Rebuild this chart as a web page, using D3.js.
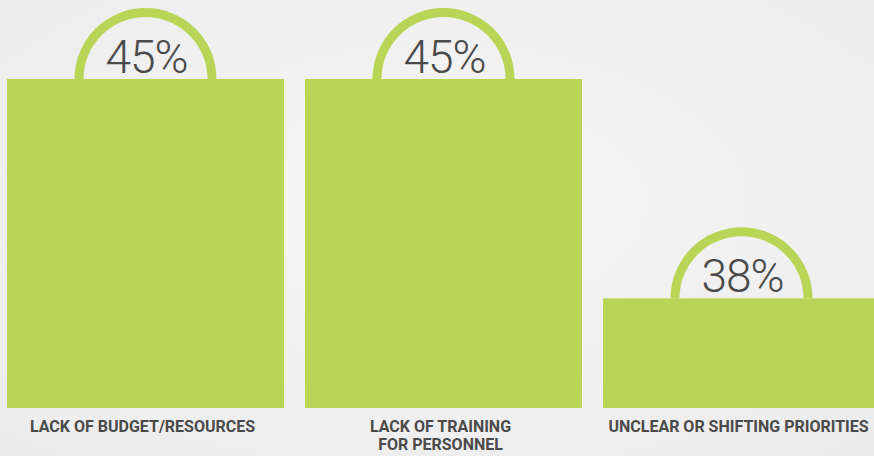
<!DOCTYPE html>
<html>
<head>
<meta charset="utf-8">
<script src="https://cdn.jsdelivr.net/npm/d3@7"></script>
<style>
  html, body { margin: 0; padding: 0; overflow: hidden; }
  body { width: 874px; height: 456px; }
</style>
</head>
<body>
<div id="chart"></div>
<script>
var categories = ["LACK OF BUDGET/RESOURCES", "LACK OF TRAINING|FOR PERSONNEL", "UNCLEAR OR SHIFTING PRIORITIES"];
var values = [45, 45, 38];
var valueLabels = ["45%", "45%", "38%"];

var width = 874,
    height = 456,
    green = "#b9d556",
    textColor = "#4a4a4a";

var svg = d3.select("#chart").append("svg")
    .attr("width", width)
    .attr("height", height);

var defs = svg.append("defs");
var grad = defs.append("radialGradient")
    .attr("id", "bg")
    .attr("cx", "50%").attr("cy", "45%").attr("r", "70%");
grad.append("stop").attr("offset", "0%").attr("stop-color", "#f6f6f6");
grad.append("stop").attr("offset", "100%").attr("stop-color", "#ececec");

svg.append("rect")
    .attr("width", width)
    .attr("height", height)
    .attr("fill", "url(#bg)");

// bands: 277px bars on a 298px step, starting at x=7
var x = d3.scaleBand()
    .domain(d3.range(categories.length))
    .range([7 - 10.5, 7 - 10.5 + 298 * 3])
    .paddingInner(21 / 298)
    .paddingOuter(10.5 / 298);

var y = d3.scaleLinear()
    .domain([34.5, 45])
    .range([408, 79]);

var g = svg.selectAll("g.bar")
    .data(values)
    .enter()
    .append("g")
    .attr("class", "bar");

var arcR = 66.5;
var arc = d3.arc()
    .innerRadius(arcR - 4.5)
    .outerRadius(arcR + 4.5)
    .startAngle(-Math.PI / 2)
    .endAngle(Math.PI / 2);

g.append("path")
    .attr("d", arc)
    .attr("fill", green)
    .attr("transform", function(d, i) {
        return "translate(" + (x(i) + x.bandwidth() / 2) + "," + y(d) + ")";
    });

g.append("rect")
    .attr("x", function(d, i) { return x(i); })
    .attr("y", function(d) { return y(d); })
    .attr("width", x.bandwidth())
    .attr("height", function(d) { return y.range()[0] - y(d); })
    .attr("fill", green);

g.append("text")
    .attr("x", function(d, i) { return x(i) + x.bandwidth() / 2 + 1; })
    .attr("y", function(d) { return y(d) - 6; })
    .attr("text-anchor", "middle")
    .style("font-family", "Roboto, sans-serif")
    .style("font-weight", 300)
    .style("font-size", "46px")
    .style("letter-spacing", "-1px")
    .style("fill", textColor)
    .text(function(d, i) { return valueLabels[i]; });

var labels = svg.selectAll("text.cat")
    .data(categories)
    .enter()
    .append("text")
    .attr("class", "cat")
    .attr("text-anchor", "middle")
    .attr("x", function(d, i) { return x(i) + x.bandwidth() / 2 - 3; })
    .attr("y", 432)
    .style("font-family", "Roboto, sans-serif")
    .style("font-weight", 700)
    .style("font-size", "16px")
    .style("fill", textColor);

labels.selectAll("tspan")
    .data(function(d) { return d.split("|"); })
    .enter()
    .append("tspan")
    .attr("x", function() { return d3.select(this.parentNode).attr("x"); })
    .attr("dy", function(d, i) { return i ? 18 : 0; })
    .text(function(d) { return d; });
</script>
</body>
</html>
